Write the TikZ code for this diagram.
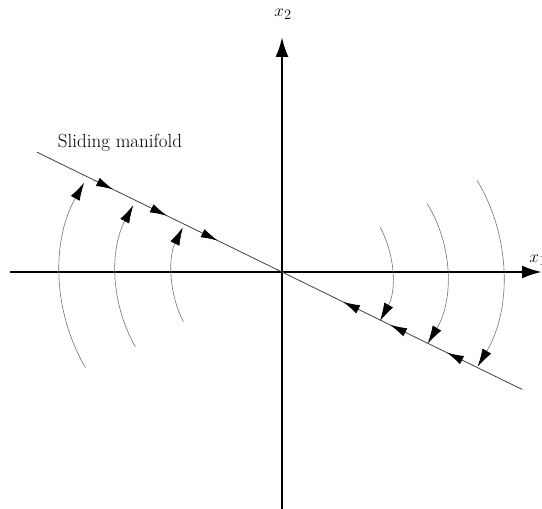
\documentclass[tikz,border=0pt]{standalone}
\usetikzlibrary{arrows.meta, decorations.markings}

\begin{document}
\begin{tikzpicture}[x=1pt, y=1pt,
    every node/.style={font=\fontsize{19}{23}\selectfont},
    axis/.style={line width=2.4pt, -{Latex[length=20pt, width=13pt]}},
    manifold/.style={line width=0.8pt, draw=black!75},
    traj/.style={line width=0.6pt, draw=black!55,
                 -{Latex[length=18pt, width=10pt, color=black]}},
    flow/.style={postaction={decorate, decoration={markings,
        mark=at position 0.157 with {\arrow{Latex[length=17pt, width=9pt, color=black]}},
        mark=at position 0.268 with {\arrow{Latex[length=17pt, width=9pt, color=black]}},
        mark=at position 0.373 with {\arrow{Latex[length=17pt, width=9pt, color=black]}},
        mark=at position 0.631 with {\arrowreversed{Latex[length=17pt, width=9pt, color=black]}},
        mark=at position 0.728 with {\arrowreversed{Latex[length=17pt, width=9pt, color=black]}},
        mark=at position 0.845 with {\arrowreversed{Latex[length=17pt, width=9pt, color=black]}}}}},
]
\useasboundingbox (0,0) rectangle (542,509);

% ================================================== the axes
\coordinate (O) at (282,237);
\coordinate (xw) at (10,237);
\coordinate (xe) at (542,237);
\coordinate (ys) at (282,0);
\coordinate (yn) at (282,472);
\draw[axis] (xw) -- (xe);
\draw[axis] (ys) -- (yn);
\node (x1lab) at (538,249) {$x_1$};
\node (x2lab) at (283,495) {$x_2$};

% ================================================== the sliding manifold
\coordinate (sw) at (37,356.8);
\coordinate (se) at (522,119.6);
\draw[manifold, flow] (sw) -- (se);
\node (smlab) at (120,366) {Sliding manifold};

% ================================================== trajectories, left
\draw[traj] (245,235) ++(210.4:185) arc[start angle=210.4, end angle=150.4, radius=185];
\draw[traj] (262,235) ++(209.9:146) arc[start angle=209.9, end angle=151.9, radius=146];
\draw[traj] (278,235) ++(206.8:106) arc[start angle=206.8, end angle=153.9, radius=106];

% ================================================== trajectories, right
\draw[traj] (294,235) ++(28.7:98) arc[start angle=28.7, end angle=-28.6, radius=98];
\draw[traj] (312,235) ++(31.5:135) arc[start angle=31.5, end angle=-31, radius=135];
\draw[traj] (321,235) ++(30.9:182) arc[start angle=30.9, end angle=-30.6, radius=182];

\end{tikzpicture}
\end{document}
